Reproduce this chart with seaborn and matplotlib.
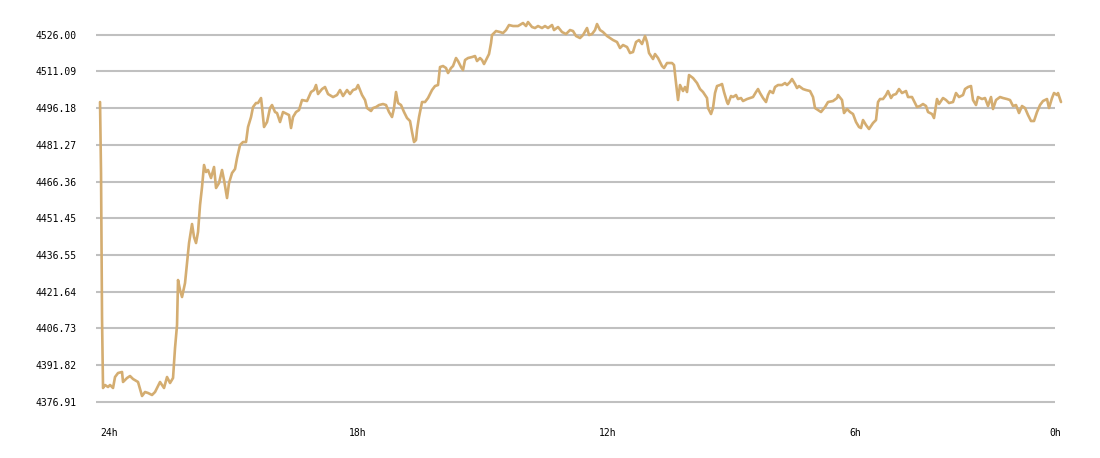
import pandas as pd
import matplotlib
matplotlib.use("Agg")
import matplotlib.pyplot as plt
import seaborn as sns

# ==========================
# DATA (minutes since start of the 24h window, price)
# ==========================

minutes = [
    0, 1.5, 3, 4.5, 7.5, 12, 15, 19.5, 22.5, 27, 33, 34.5, 40.5, 45, 49.5, 57, 63, 67.5, 72, 78,
    82.5, 90, 96, 100.5, 105, 109.5, 112.5, 115.5, 117, 120, 123, 127.5, 130.5, 133.5, 138, 141, 144, 147, 150, 153,
    156, 159, 162, 166.5, 171, 174, 178.5, 183, 186, 190.5, 193.5, 198, 202.5, 205.5, 210, 214.5, 219, 222, 226.5, 229.5,
    234, 237, 241.5, 243, 246, 250.5, 255, 258, 262.5, 265.5, 270, 274.5, 280.5, 283.5, 286.5, 289.5, 294, 298.5, 303, 310.5,
    316.5, 321, 324, 327, 333, 337.5, 342, 349.5, 355.5, 360, 364.5, 370.5, 375, 379.5, 384, 387, 393, 397.5, 400.5, 406.5,
    409.5, 414, 418.5, 424.5, 429, 433.5, 438, 441, 444, 447, 451.5, 456, 460.5, 465, 468, 471, 474, 475.5, 478.5, 483,
    487.5, 492, 498, 502.5, 507, 510, 514.5, 519, 522, 526.5, 529.5, 534, 537, 541.5, 544.5, 547.5, 552, 558, 562.5, 565.5,
    570, 573, 576, 580.5, 583.5, 586.5, 588, 594, 600, 604.5, 609, 613.5, 619.5, 627, 634.5, 639, 642, 648, 652.5, 657,
    663, 667.5, 672, 678, 681, 687, 693, 699, 705, 709.5, 714, 720, 724.5, 730.5, 733.5, 738, 742.5, 745.5, 750, 754.5,
    760.5, 765, 769.5, 775.5, 780, 784.5, 790.5, 795, 799.5, 804, 808.5, 813, 817.5, 820.5, 823.5, 829.5, 832.5, 837, 843, 846,
    850.5, 858, 861, 864, 867, 870, 874.5, 877.5, 880.5, 883.5, 889.5, 895.5, 900, 904.5, 910.5, 912, 916.5, 919.5, 922.5, 925.5,
    930, 933, 936, 940.5, 942, 946.5, 949.5, 954, 957, 961.5, 964.5, 970.5, 975, 979.5, 984, 987, 990, 994.5, 999, 1002,
    1005, 1009.5, 1012.5, 1017, 1023, 1027.5, 1030.5, 1035, 1038, 1042.5, 1045.5, 1048.5, 1054.5, 1059, 1065, 1069.5, 1072.5, 1077, 1081.5, 1087.5,
    1092, 1099.5, 1105.5, 1107, 1113, 1116, 1120.5, 1125, 1129.5, 1134, 1138.5, 1141.5, 1144.5, 1149, 1153.5, 1159.5, 1164, 1167, 1170, 1174.5,
    1179, 1182, 1186.5, 1189.5, 1194, 1198.5, 1203, 1209, 1212, 1218, 1225.5, 1230, 1234.5, 1239, 1242, 1248, 1251, 1255.5, 1258.5, 1264.5,
    1269, 1273.5, 1279.5, 1284, 1288.5, 1294.5, 1297.5, 1302, 1306.5, 1309.5, 1314, 1317, 1323, 1327.5, 1332, 1336.5, 1339.5, 1344, 1350, 1354.5,
    1360.5, 1365, 1369.5, 1374, 1378.5, 1383, 1387.5, 1392, 1396.5, 1401, 1405.5, 1410, 1414.5, 1420.5, 1423.5, 1428, 1431, 1435.5, 1437, 1441.5,
]

price = [
    4498.66, 4469.82, 4410.92, 4382.48, 4383.70, 4382.89, 4383.70, 4382.48, 4386.95, 4388.57,
    4388.98, 4384.92, 4386.54, 4387.35, 4386.14, 4384.92, 4379.23, 4380.85, 4380.45, 4379.64,
    4380.85, 4384.92, 4382.48, 4386.95, 4384.51, 4386.54, 4398.73, 4408.07, 4426.35, 4422.29,
    4419.45, 4425.13, 4433.26, 4441.38, 4449.10, 4443.82, 4441.38, 4445.85, 4456.82, 4464.13,
    4473.07, 4470.23, 4471.04, 4467.79, 4472.26, 4463.73, 4465.76, 4471.04, 4466.98, 4459.66,
    4465.76, 4469.82, 4471.45, 4475.91, 4481.20, 4482.41, 4482.41, 4488.51, 4492.57, 4496.63,
    4498.26, 4498.26, 4500.29, 4496.63, 4488.51, 4490.54, 4496.23, 4497.44, 4494.60, 4494.19,
    4490.54, 4494.60, 4493.79, 4493.38, 4488.10, 4492.57, 4494.60, 4495.41, 4499.48, 4499.07,
    4502.73, 4503.54, 4505.57, 4501.91, 4503.94, 4504.76, 4501.91, 4500.69, 4501.51, 4503.54,
    4501.10, 4503.54, 4501.91, 4503.54, 4503.94, 4505.57, 4501.51, 4499.48, 4496.23, 4495.01,
    4496.23, 4496.63, 4497.44, 4497.85, 4497.44, 4494.60, 4492.57, 4496.23, 4502.73, 4498.26,
    4497.44, 4494.60, 4492.16, 4490.95, 4486.48, 4482.41, 4483.23, 4487.29, 4492.57, 4498.66,
    4498.66, 4500.29, 4503.54, 4505.16, 4505.57, 4512.88, 4513.29, 4512.48, 4510.44, 4512.48,
    4513.29, 4516.54, 4515.32, 4512.88, 4511.66, 4515.73, 4516.54, 4516.94, 4517.35, 4515.32,
    4516.54, 4515.73, 4514.10, 4516.54, 4518.16, 4522.63, 4525.88, 4527.51, 4527.10, 4526.69,
    4527.91, 4529.94, 4529.54, 4529.54, 4530.76, 4529.54, 4531.16, 4529.13, 4528.73, 4529.54,
    4528.73, 4529.54, 4528.73, 4529.94, 4527.91, 4529.13, 4527.10, 4526.29, 4527.91, 4527.51,
    4525.48, 4524.66, 4525.88, 4528.73, 4525.88, 4526.29, 4527.91, 4530.35, 4527.91, 4527.10,
    4525.48, 4524.66, 4523.85, 4523.04, 4520.60, 4521.82, 4521.01, 4518.57, 4518.98, 4523.04,
    4523.85, 4522.23, 4525.48, 4523.04, 4518.57, 4516.13, 4518.16, 4516.54, 4513.29, 4512.48,
    4514.51, 4514.51, 4513.69, 4506.38, 4499.48, 4505.57, 4503.13, 4504.76, 4502.73, 4509.63,
    4508.41, 4506.38, 4503.94, 4502.73, 4500.29, 4496.23, 4493.79, 4496.23, 4502.32, 4505.16,
    4505.57, 4505.98, 4502.73, 4498.66, 4497.85, 4501.10, 4500.69, 4501.51, 4499.88, 4500.29,
    4499.07, 4499.88, 4500.29, 4500.69, 4502.73, 4503.94, 4502.32, 4500.29, 4498.66, 4501.51,
    4503.13, 4502.32, 4504.76, 4505.57, 4505.57, 4506.38, 4505.57, 4506.79, 4508.01, 4505.98,
    4504.35, 4505.16, 4503.94, 4503.54, 4503.13, 4500.69, 4496.23, 4495.41, 4494.60, 4496.63,
    4498.66, 4499.07, 4500.29, 4501.51, 4499.48, 4494.19, 4495.82, 4494.60, 4493.79, 4490.54,
    4488.51, 4488.10, 4491.35, 4489.32, 4487.70, 4490.13, 4491.35, 4498.66, 4499.88, 4499.88,
    4501.51, 4503.13, 4500.29, 4501.51, 4501.91, 4503.94, 4502.32, 4503.13, 4500.69, 4500.69,
    4496.63, 4497.04, 4497.85, 4497.04, 4494.60, 4493.79, 4492.16, 4499.88, 4497.85, 4500.29,
    4499.48, 4498.26, 4498.66, 4502.32, 4500.69, 4501.51, 4503.94, 4504.76, 4505.16, 4499.48,
    4497.44, 4500.69, 4499.88, 4500.29, 4497.04, 4500.69, 4495.82, 4499.48, 4500.69, 4500.29,
    4499.88, 4499.48, 4497.04, 4497.44, 4494.19, 4497.04, 4496.23, 4493.38, 4490.95, 4490.95,
    4494.60, 4497.44, 4499.07, 4499.88, 4496.23, 4500.29, 4502.32, 4501.51, 4502.32, 4498.66,
]

y_ticks = [4376.91, 4391.82, 4406.73, 4421.64, 4436.55, 4451.45, 4466.36, 4481.27, 4496.18, 4511.09, 4526.00]
y_tick_labels = ["4376.91", "4391.82", "4406.73", "4421.64", "4436.55", "4451.45",
                 "4466.36", "4481.27", "4496.18", "4511.09", "4526.00"]

x_tick_labels = ["24h", "18h", "12h", "6h", "0h"]
x_tick_pos = [0, 373.5, 748.5, 1123.5, 1423.5]

df = pd.DataFrame({"minutes": minutes, "price": price})

# ==========================
# PLOT
# ==========================

sns.set_style("white")

fig = plt.figure(figsize=(11, 4.58), dpi=100)
ax = fig.add_axes([0.0873, 0.1048, 0.8718, 0.8624])

sns.lineplot(data=df, x="minutes", y="price", ax=ax,
             color="#d4ad71", linewidth=1.9, clip_on=False, zorder=3)

ax.set_xlim(-6, 1432.5)
ax.set_ylim(4373.54, 4534.01)

ax.set_yticks(y_ticks)
ax.set_yticklabels(y_tick_labels, family="DejaVu Sans Mono", fontsize=7, color="black")
ax.set_xticks(x_tick_pos)
ax.set_xticklabels(x_tick_labels, family="DejaVu Sans Mono", fontsize=7, color="black", ha="left")

ax.tick_params(axis="y", length=0, pad=14)
ax.tick_params(axis="x", length=0, pad=13)

ax.yaxis.grid(True, color="#c0c0c0", linewidth=1.5)
ax.xaxis.grid(False)
ax.set_axisbelow(True)

for side in ["top", "right", "bottom", "left"]:
    ax.spines[side].set_visible(False)

ax.set_xlabel("")
ax.set_ylabel("")

fig.savefig("out.png", dpi=100)
